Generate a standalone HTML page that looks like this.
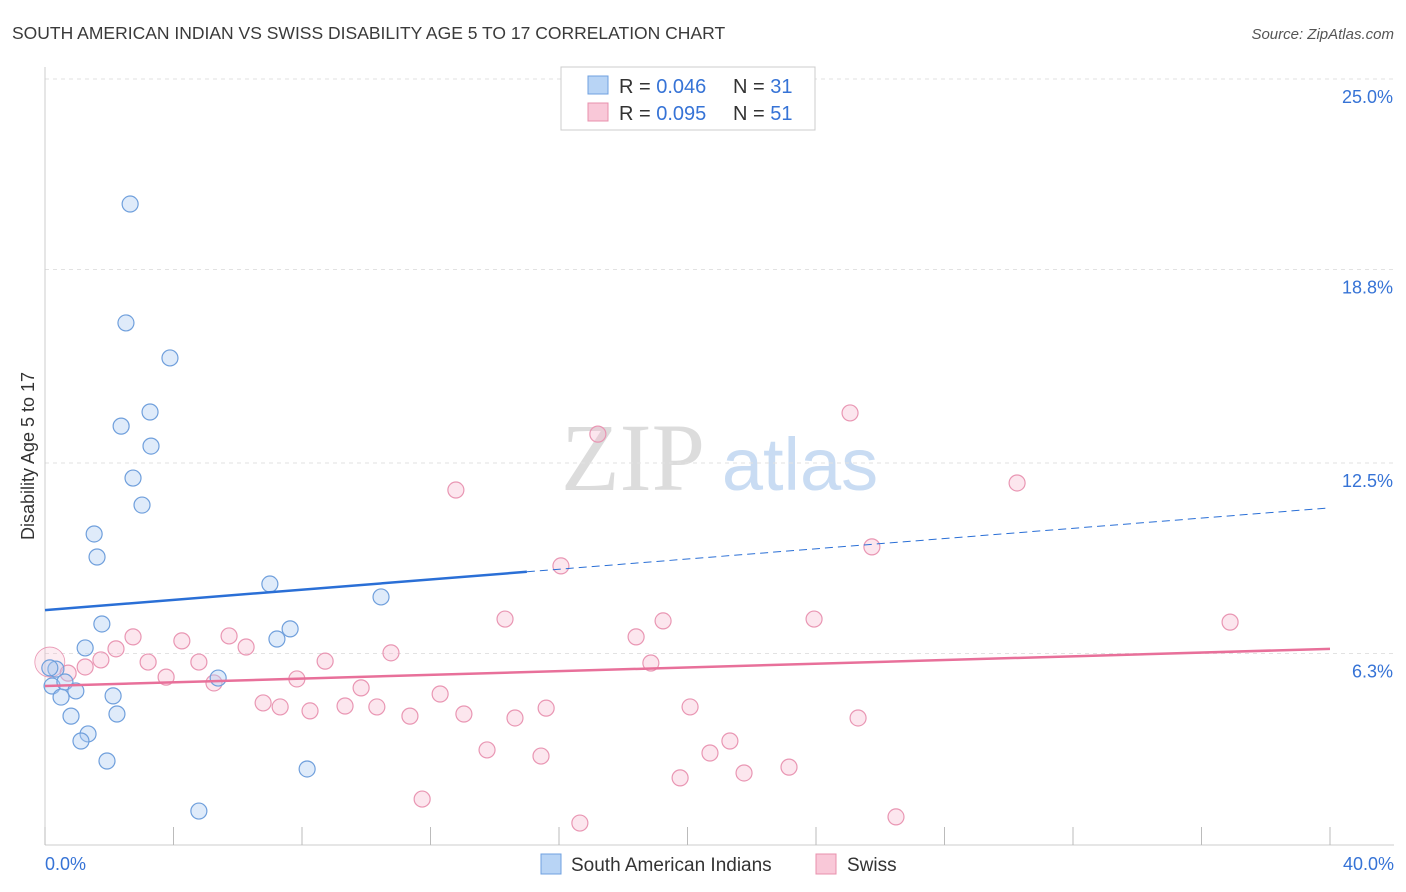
<!DOCTYPE html>
<html><head><meta charset="utf-8"><style>
body{margin:0;background:#fff;font-family:"Liberation Sans",sans-serif;}
svg{display:block}
</style></head><body>
<svg id="chart" width="1406" height="892" xmlns="http://www.w3.org/2000/svg">
<text x="12" y="39" font-size="17.5" fill="#3a3a3a">SOUTH AMERICAN INDIAN VS SWISS DISABILITY AGE 5 TO 17 CORRELATION CHART</text>
<text x="1394" y="39" font-size="15" fill="#555" font-style="italic" text-anchor="end">Source: ZipAtlas.com</text>
<g>
<text x="633" y="490" font-size="96" font-family="Liberation Serif,serif" fill="#dcdcdc" text-anchor="middle">ZIP</text>
<text x="800" y="490" font-size="74" fill="#c9dcf3" text-anchor="middle">atlas</text>
</g>
<g id="grid"></g>
<g id="axes"></g>
<g id="marks"></g>
<text transform="translate(34,456) rotate(-90)" font-size="18" fill="#333" text-anchor="middle">Disability Age 5 to 17</text>
<g>
<rect x="561" y="67" width="254" height="63" fill="#fff" stroke="#ccc"/>
<rect x="588" y="76" width="20" height="18" fill="#b8d4f5" stroke="#6fa0e0"/>
<rect x="588" y="103" width="20" height="18" fill="#f9c8d8" stroke="#e890ad"/>
<text x="619" y="93" font-size="20" fill="#333">R = <tspan fill="#3673d6">0.046</tspan></text>
<text x="733" y="93" font-size="20" fill="#333">N = <tspan fill="#3673d6">31</tspan></text>
<text x="619" y="120" font-size="20" fill="#333">R = <tspan fill="#3673d6">0.095</tspan></text>
<text x="733" y="120" font-size="20" fill="#333">N = <tspan fill="#3673d6">51</tspan></text>
</g>
<g>
<rect x="541" y="854" width="20" height="20" fill="#b8d4f5" stroke="#6fa0e0"/>
<text x="571" y="871" font-size="19" fill="#333">South American Indians</text>
<rect x="816" y="854" width="20" height="20" fill="#f9c8d8" stroke="#e890ad"/>
<text x="847" y="871" font-size="19" fill="#333">Swiss</text>
</g>
</svg>
<script>
const yTicks=[25.0,18.8,12.5,6.3];
const yTickLabels=["25.0%","18.8%","12.5%","6.3%"];
const xTickLabels=["0.0%","40.0%"];
const blueX=[2.65,2.52,3.89,3.27,2.37,3.30,2.74,3.02,1.53,1.62,7.00,10.46,1.77,7.63,7.22,1.25,0.34,0.22,0.62,0.96,0.50,5.39,2.12,0.81,2.24,1.34,1.12,1.93,8.16,4.79,0.15];
const blueY=[20.93,17.06,15.92,14.16,13.70,13.05,12.01,11.13,10.19,9.44,8.56,8.14,7.26,7.10,6.77,6.48,5.79,5.24,5.37,5.08,4.88,5.50,4.92,4.26,4.33,3.68,3.45,2.80,2.54,1.17,5.83];
const pinkX=[0.15,0.72,1.25,1.74,2.21,2.74,3.21,3.77,4.26,4.79,5.26,5.73,6.26,6.79,7.32,7.84,8.25,8.72,9.34,9.84,10.33,10.77,11.36,11.74,12.30,12.79,13.04,13.76,14.32,14.63,15.44,15.60,16.06,16.65,17.21,18.40,18.86,19.24,19.77,20.08,20.70,21.32,21.76,23.16,23.94,25.06,25.31,25.74,26.49,30.26,36.89];
const pinkY=[6.02,5.66,5.86,6.09,6.45,6.84,6.02,5.53,6.71,6.02,5.34,6.87,6.51,4.69,4.56,5.47,4.43,6.05,4.59,5.18,4.56,6.32,4.26,1.56,4.98,11.62,4.33,3.16,7.42,4.20,2.96,4.52,9.15,0.78,13.44,6.84,5.99,7.36,2.25,4.56,3.06,3.45,2.41,2.60,7.42,14.13,4.20,9.77,0.98,11.85,7.32];
const blueTrend=[7.71,11.04];
const pinkTrend=[5.24,6.45];
const blueSolidEnd=15;
const X=v=>45+v/40*1285;
const Y=v=>847-v*30.72;
const NS="http://www.w3.org/2000/svg";
function mk(parent,tag,attrs){const e=document.createElementNS(NS,tag);for(const k in attrs)e.setAttribute(k,attrs[k]);document.getElementById(parent).appendChild(e);return e;}
yTicks.forEach((t,i)=>{
 const l=mk('grid','line',{x1:45,x2:1394,y1:Y(t),y2:Y(t),stroke:'#e2e2e2','stroke-dasharray':'4,4'});
 
 
 const tx=mk('grid','text',{x:1393,y:Y(t)+24,'font-size':18,fill:'#3673d6','text-anchor':'end'});
 tx.textContent=yTickLabels[i];
 
 
});
const ax=mk('axes','line',{x1:45,x2:45,y1:67,y2:845,stroke:'#ccc'});


const bx=mk('axes','line',{x1:45,x2:1394,y1:845,y2:845,stroke:'#ccc'});


for(let i=0;i<=10;i++){
 const t=mk('axes','line',{x1:X(i*4),x2:X(i*4),y1:827,y2:845,stroke:'#bbb'});
 
 
}
[[0,'start',45],[40,'end',1394]].forEach((d,i)=>{
 const t=mk('axes','text',{x:d[2],y:870,'font-size':18,fill:'#3673d6','text-anchor':d[1]});
 t.textContent=xTickLabels[i];
 
 
});
pinkX.forEach((x,i)=>{
 const c=mk('marks','circle',{cx:X(x),cy:Y(pinkY[i]),r:i===0?15:8,fill:i===0?'rgba(246,184,205,0.25)':'rgba(246,184,205,0.35)',stroke:'#e996b3','stroke-width':i===0?0.8:1.2});
 
 
});
blueX.forEach((x,i)=>{
 const c=mk('marks','circle',{cx:X(x),cy:Y(blueY[i]),r:8,fill:'rgba(170,203,242,0.38)',stroke:'#6f9fdc','stroke-width':1.2});
 
 
});
const bf=v=>blueTrend[0]+(blueTrend[1]-blueTrend[0])*v/40;
const l1=mk('marks','line',{x1:X(0),y1:Y(bf(0)),x2:X(blueSolidEnd),y2:Y(bf(blueSolidEnd)),stroke:'#2a6fd6','stroke-width':2.5});


const l2=mk('marks','line',{x1:X(blueSolidEnd),y1:Y(bf(blueSolidEnd)),x2:X(40),y2:Y(bf(40)),stroke:'#2a6fd6','stroke-width':1,'stroke-dasharray':'8,5'});


const l3=mk('marks','line',{x1:X(0),y1:Y(pinkTrend[0]),x2:X(40),y2:Y(pinkTrend[1]),stroke:'#e8709a','stroke-width':2.5});


</script>
</body></html>
